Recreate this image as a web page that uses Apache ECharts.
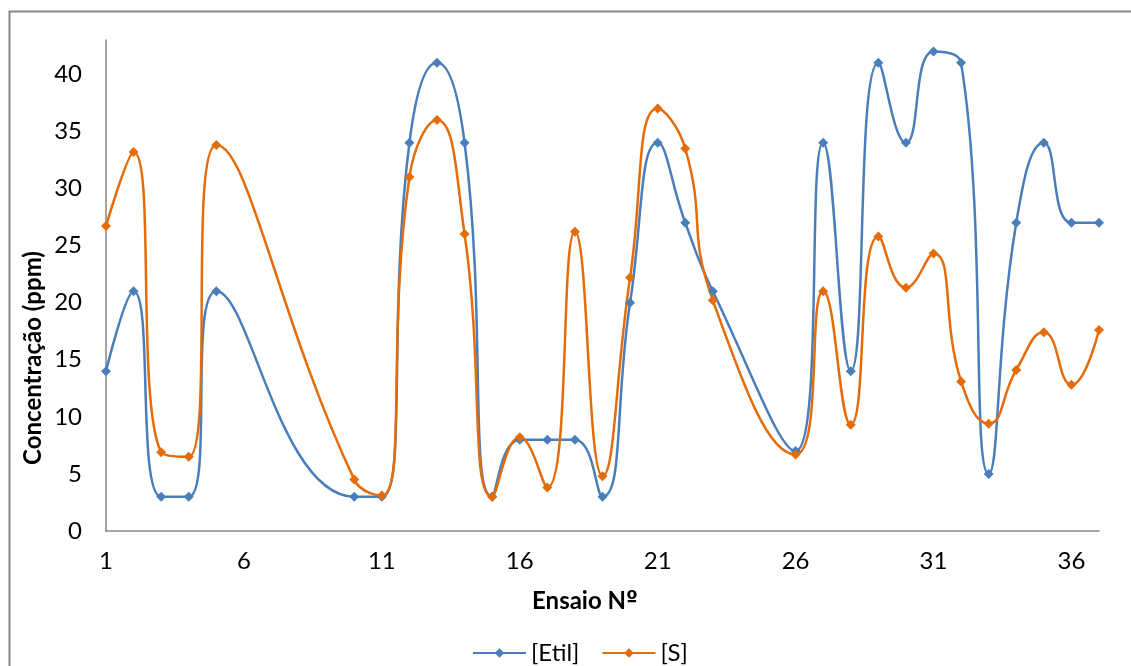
<!DOCTYPE html>
<html>
<head>
<meta charset="utf-8">
<script src="https://cdn.jsdelivr.net/npm/echarts@6/dist/echarts.min.js"></script>
<style>
html,body{margin:0;padding:0;background:#fff;}
#c{width:1131px;height:666px;}
</style>
</head>
<body>
<div id="c"></div>
<script>
const ensaio = [1,2,3,4,5,10,11,12,13,14,15,16,17,18,19,20,21,22,23,26,27,28,29,30,31,32,33,34,35,36,37];
const etil   = [14,21,3,3,21,3,3,34,41,34,3,8,8,8,3,20,34,27,21,7,34,14,41,34,42,41,5,27,34,27,27];
const sVals  = [26.7,33.2,6.9,6.5,33.8,4.5,3.1,31,36,26,3,8.2,3.8,26.2,4.8,22.2,37,33.5,20.2,6.7,21,9.3,25.8,21.3,24.3,13.1,9.4,14.1,17.4,12.8,17.6];
const seriesNames = ['[Etil]','[S]'];
const xTitleMain = 'Ensaio N';
const xTitleOrd = 'º';
const yTitle = 'Concentração (ppm)';

const FONT = 'Lato, "Open Sans", sans-serif';
const axisColor = '#868686';
const pairs = arr => ensaio.map((x,i)=>[x,arr[i]]);

const chart = echarts.init(document.getElementById('c'), null, {renderer:'canvas'});
chart.setOption({
  animation:false,
  backgroundColor:'#fff',
  textStyle:{fontFamily:FONT},
  grid:{left:106, right:32, top:40, bottom:135, containLabel:false},
  xAxis:{
    type:'value', min:1, max:37, interval:5,
    axisLine:{show:true, lineStyle:{color:axisColor, width:1.5}},
    axisTick:{show:false},
    splitLine:{show:false},
    axisLabel:{color:'#000', fontSize:24, fontFamily:FONT, margin:18, showMaxLabel:false}
  },
  yAxis:{
    type:'value', min:0, max:43, interval:5,
    axisLine:{show:true, lineStyle:{color:axisColor, width:1.5}},
    axisTick:{show:false},
    splitLine:{show:false},
    axisLabel:{color:'#000', fontSize:24, fontFamily:FONT, margin:24, showMaxLabel:false}
  },
  legend:{
    left:467, top:636,
    itemWidth:53, itemHeight:12, itemGap:22,
    textStyle:{color:'#000', fontSize:24, fontFamily:FONT, padding:[0,0,0,0]},
    data:seriesNames
  },
  graphic:[
    {type:'rect', left:7, top:9, shape:{width:1140, height:680}, style:{fill:'none', stroke:axisColor, lineWidth:2}, silent:true, z:-1},
    {type:'text', x:585, y:601, style:{
      text:'{a|'+xTitleMain+'}{b|'+xTitleOrd+'}',
      align:'center', verticalAlign:'middle',
      rich:{
        a:{fontFamily:FONT, fontWeight:'bold', fontSize:24, fill:'#000', color:'#000'},
        b:{fontFamily:'"DejaVu Sans", sans-serif', fontWeight:'bold', fontSize:21, fill:'#000', color:'#000'}
      }}},
    {type:'text', x:33, y:358, rotation:Math.PI/2, style:{text:yTitle, font:'bold 24px '+FONT, fill:'#000', align:'center', verticalAlign:'middle'}}
  ],
  series:[
    {name:seriesNames[0], type:'line', smooth:0.5, data:pairs(etil),
     symbol:'diamond', symbolSize:10,
     lineStyle:{color:'#4A7EBB', width:2.5}, itemStyle:{color:'#4A7EBB'}},
    {name:seriesNames[1], type:'line', smooth:0.5, data:pairs(sVals),
     symbol:'diamond', symbolSize:10,
     lineStyle:{color:'#E46C0A', width:2.5}, itemStyle:{color:'#E46C0A'}}
  ]
});
</script>
</body>
</html>
